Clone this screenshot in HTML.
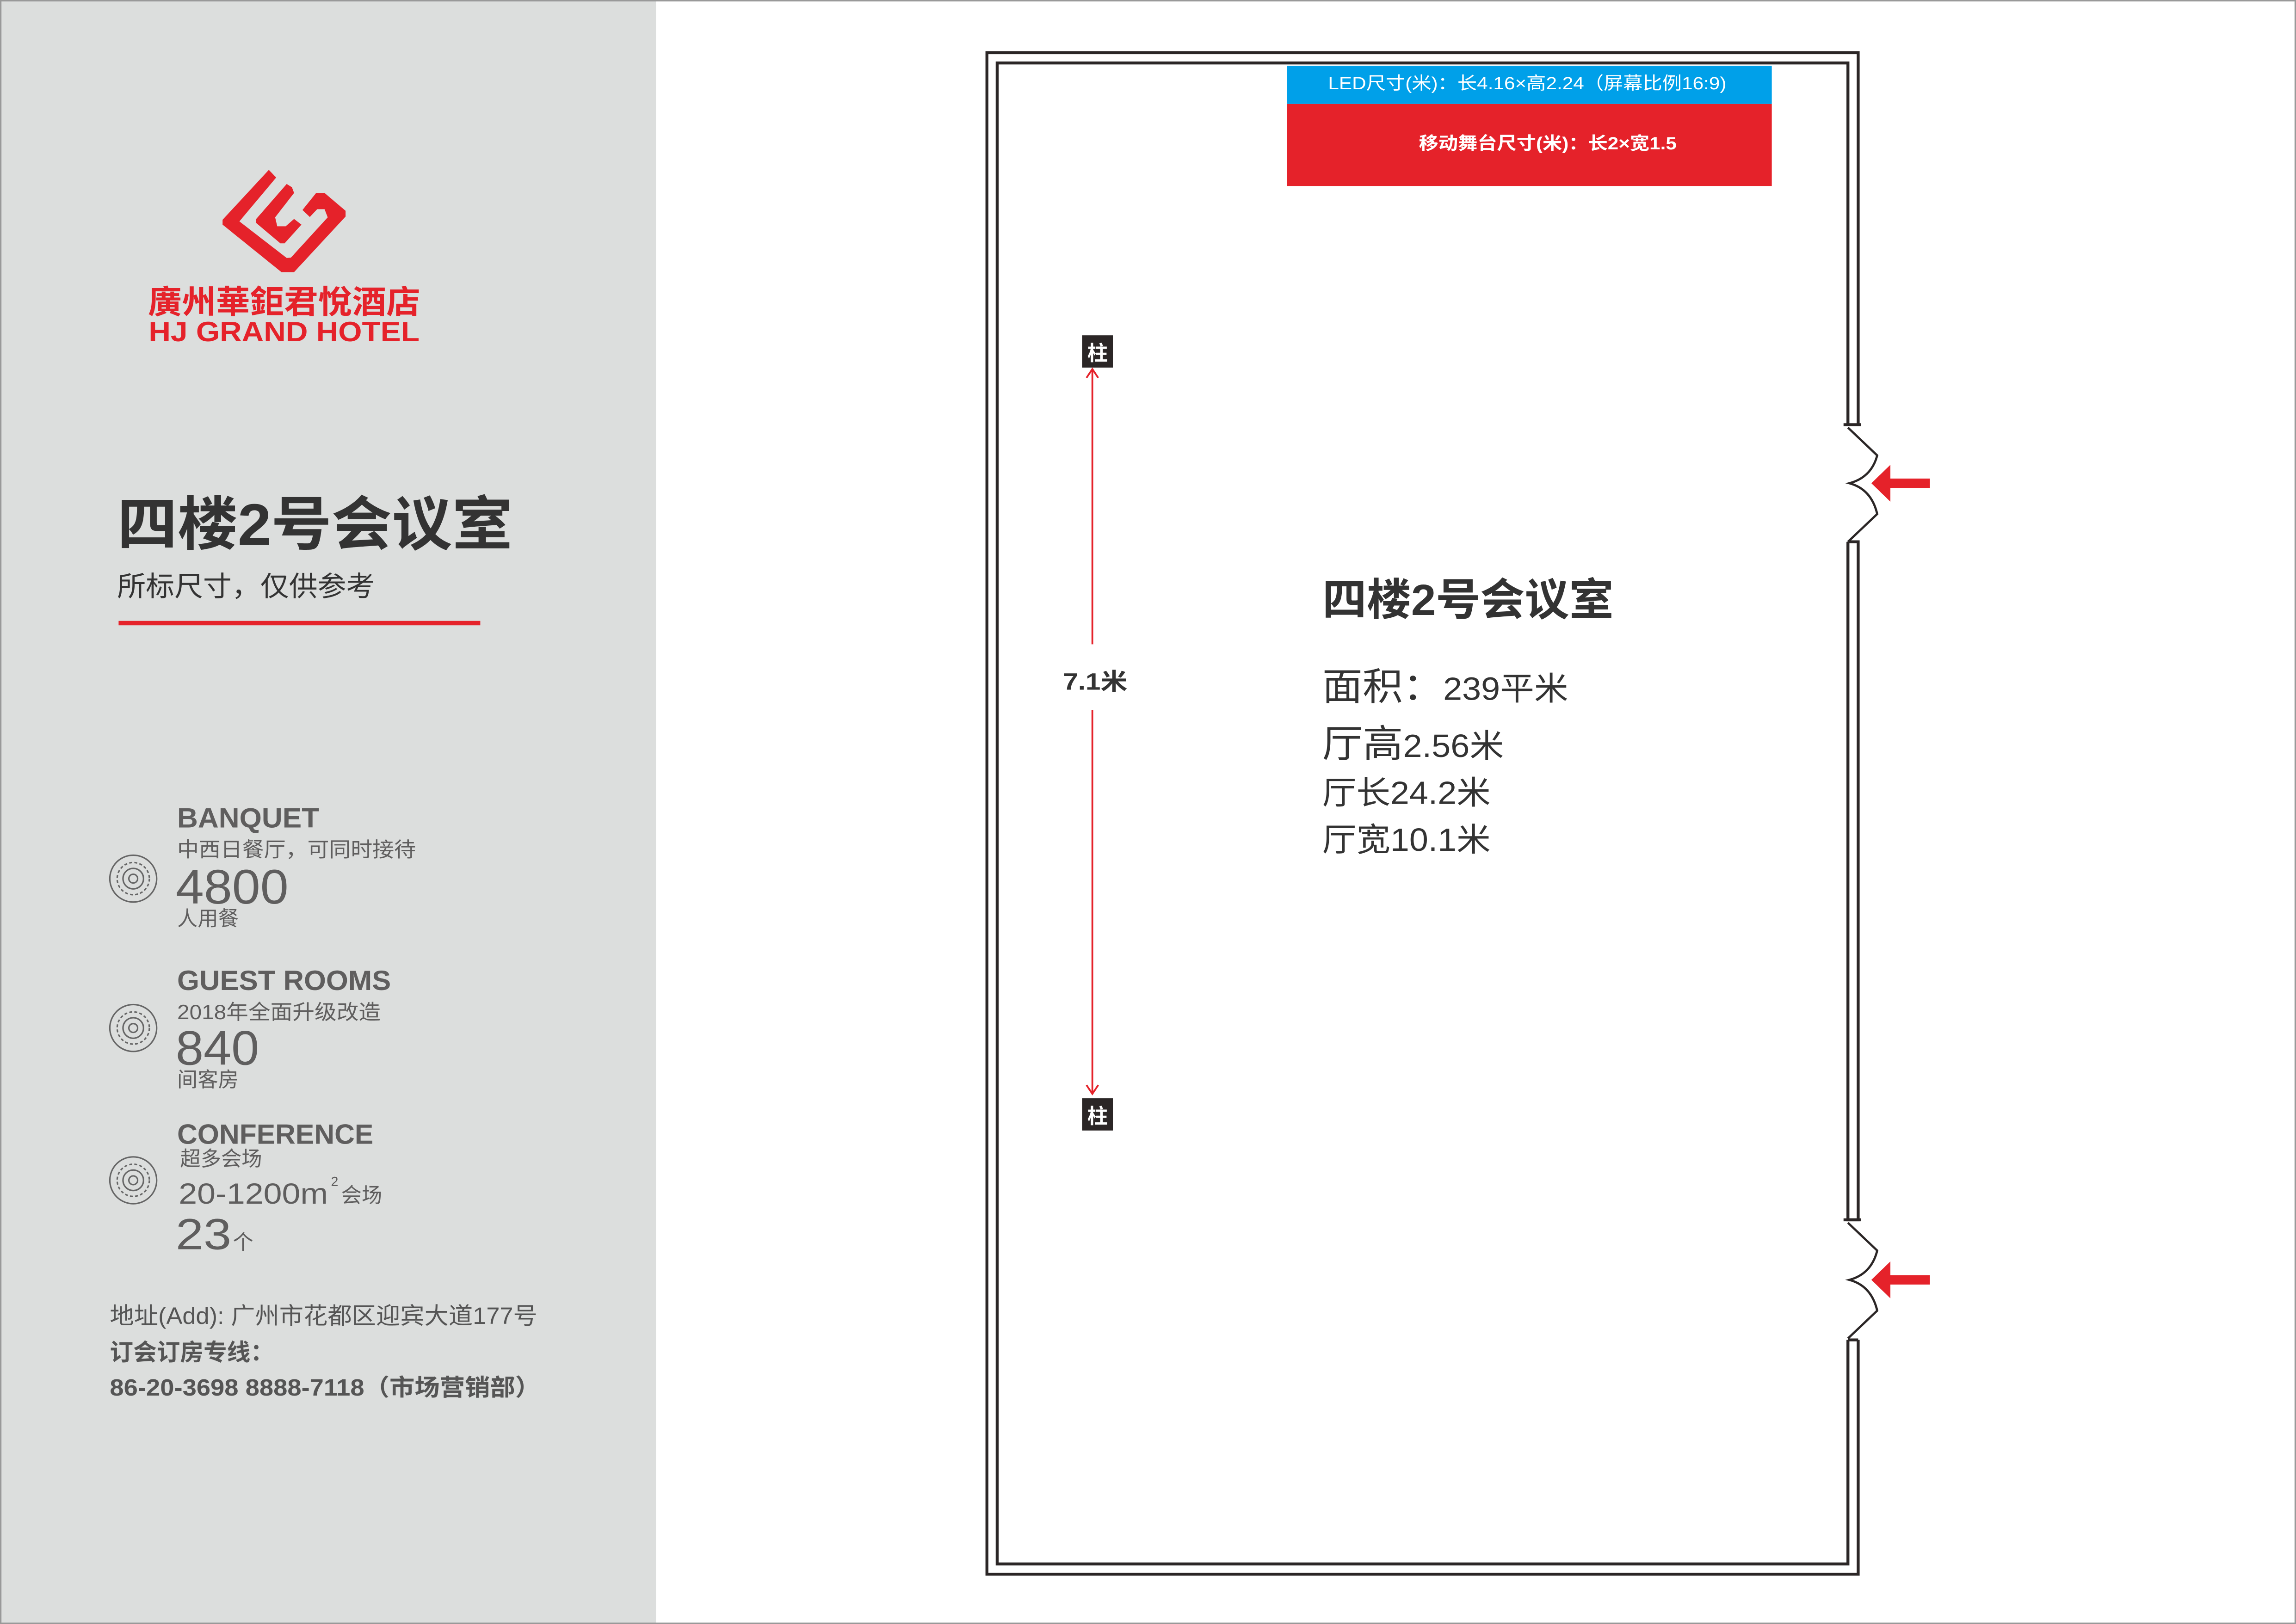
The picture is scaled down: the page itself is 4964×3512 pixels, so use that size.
<!DOCTYPE html>
<html><head><meta charset="utf-8"><style>
html,body{margin:0;padding:0;background:#fff}
svg{display:block}
text{font-family:"Liberation Sans","Noto Sans CJK SC",sans-serif}
</style></head><body>
<svg width="4964" height="3512" viewBox="0 0 1568 1109" preserveAspectRatio="none" xmlns="http://www.w3.org/2000/svg">
<rect x="0" y="0" width="1568" height="1109" fill="#fff"/>
<rect x="0" y="0" width="448" height="1109" fill="#dcdedd"/>
<rect x="0.5" y="0.5" width="1567" height="1108" fill="none" stroke="#999" stroke-width="1"/>
<!-- logo -->
<g transform="translate(152,116) scale(0.1436,0.111) translate(-520,-128)" fill="#e5222a">
<polygon points="740,128 520,435 520,465 800,757 860,757 1105,415 1105,380 1005,270 965,270 900,375 935,418 970,370 1005,370 1020,420 845,668 825,670 600,445 775,175"/>
<polygon points="825,215 680,430 680,455 795,580 815,580 895,465 860,430 820,475 780,475 770,420 860,270 850,235"/>
</g>
<text x="194" y="214" font-size="22" font-weight="bold" fill="#e5222a" text-anchor="middle" textLength="186" lengthAdjust="spacingAndGlyphs">廣州華鉅君悅酒店</text>
<text x="194" y="233" font-size="19" font-weight="bold" fill="#e5222a" text-anchor="middle" textLength="185" lengthAdjust="spacingAndGlyphs">HJ GRAND HOTEL</text>
<text x="80" y="372" font-size="40" font-weight="bold" fill="#333" textLength="270" lengthAdjust="spacingAndGlyphs">四楼2号会议室</text>
<text x="80" y="407" font-size="19" fill="#333" textLength="176" lengthAdjust="spacingAndGlyphs">所标尺寸，仅供参考</text>
<rect x="81" y="424" width="247" height="3" fill="#e5222a"/>
<!-- stats -->
<g fill="#5f5e5e">
<text x="121" y="565" font-size="19" font-weight="bold" textLength="97" lengthAdjust="spacingAndGlyphs">BANQUET</text>
<text x="121" y="585" font-size="14" textLength="163" lengthAdjust="spacingAndGlyphs">中西日餐厅，可同时接待</text>
<text x="120" y="617" font-size="33" textLength="77" lengthAdjust="spacingAndGlyphs">4800</text>
<text x="121" y="632" font-size="14">人用餐</text>
<text x="121" y="676" font-size="19" font-weight="bold" textLength="146" lengthAdjust="spacingAndGlyphs">GUEST ROOMS</text>
<text x="121" y="696" font-size="14" textLength="139" lengthAdjust="spacingAndGlyphs">2018年全面升级改造</text>
<text x="120" y="727" font-size="33" textLength="57" lengthAdjust="spacingAndGlyphs">840</text>
<text x="121" y="742" font-size="14">间客房</text>
<text x="121" y="781" font-size="19" font-weight="bold" textLength="134" lengthAdjust="spacingAndGlyphs">CONFERENCE</text>
<text x="123" y="796" font-size="14">超多会场</text>
<text x="122" y="822" font-size="20" textLength="102" lengthAdjust="spacingAndGlyphs">20-1200m</text>
<text x="226" y="810" font-size="9">2</text>
<text x="233" y="821" font-size="14">会场</text>
<text x="120" y="853" font-size="30" textLength="38" lengthAdjust="spacingAndGlyphs">23</text>
<text x="159" y="853" font-size="14">个</text>
</g>
<g fill="none" stroke="#666" stroke-width="1">
<circle cx="91" cy="600" r="16"/><circle cx="91" cy="600" r="11" stroke-dasharray="2,1.5"/><circle cx="91" cy="600" r="7"/><circle cx="91" cy="600" r="3"/>
<circle cx="91" cy="702" r="16"/><circle cx="91" cy="702" r="11" stroke-dasharray="2,1.5"/><circle cx="91" cy="702" r="7"/><circle cx="91" cy="702" r="3"/>
<circle cx="91" cy="806" r="16"/><circle cx="91" cy="806" r="11" stroke-dasharray="2,1.5"/><circle cx="91" cy="806" r="7"/><circle cx="91" cy="806" r="3"/>
</g>
<text x="75" y="904" font-size="16" fill="#555" textLength="292" lengthAdjust="spacingAndGlyphs">地址(Add): 广州市花都区迎宾大道177号</text>
<text x="75" y="929" font-size="16" font-weight="bold" fill="#555">订会订房专线：</text>
<text x="75" y="953" font-size="16" font-weight="bold" fill="#555" textLength="294" lengthAdjust="spacingAndGlyphs">86-20-3698 8888-7118（市场营销部）</text>
<!-- room walls -->
<g fill="none" stroke="#2b2626" stroke-width="2">
<polyline points="1269,290 1269,36 674,36 674,1075 1269,1075 1269,915"/>
<polyline points="1262,290 1262,43 681,43 681,1068 1262,1068 1262,915"/>
<polyline points="1262,370 1262,833 1269,833 1269,370 1262,370"/>
<line x1="1259" y1="290" x2="1271" y2="290"/>
<line x1="1259" y1="833" x2="1271" y2="833"/>
<line x1="1262" y1="915" x2="1269" y2="915"/>
<path d="M1262,292 L1282,311 Q1278,326 1263,330 Q1278,334 1282,351 L1262,370" stroke-width="1.5"/>
<path d="M1262,835 L1282,854 Q1278,870 1263,874 Q1278,878 1282,895 L1262,914" stroke-width="1.5"/>
</g>
<g fill="#e5222a">
<polygon points="1278,330 1291,317.4 1291,326.8 1318,326.8 1318,333.2 1291,333.2 1291,342.6"/>
<polygon points="1278,874 1291,861.4 1291,870.8 1318,870.8 1318,877.2 1291,877.2 1291,886.6"/>
</g>
<!-- LED/stage -->
<rect x="879" y="45" width="331" height="26" fill="#00a0e9"/>
<rect x="879" y="71" width="331" height="56" fill="#e5222a"/>
<text x="1043" y="61" font-size="12" fill="#fff" text-anchor="middle" textLength="272" lengthAdjust="spacingAndGlyphs">LED尺寸(米)：长4.16×高2.24（屏幕比例16:9)</text>
<text x="1057" y="102" font-size="12" font-weight="bold" fill="#fff" text-anchor="middle" textLength="176" lengthAdjust="spacingAndGlyphs">移动舞台尺寸(米)：长2×宽1.5</text>
<!-- pillars -->
<rect x="739" y="229" width="21" height="22" fill="#2b2626"/>
<text x="749.5" y="246" font-size="14" font-weight="bold" fill="#fff" text-anchor="middle">柱</text>
<rect x="739" y="750" width="21" height="22" fill="#2b2626"/>
<text x="749.5" y="767" font-size="14" font-weight="bold" fill="#fff" text-anchor="middle">柱</text>
<g stroke="#e5222a" stroke-width="1.2" fill="none">
<line x1="746" y1="252" x2="746" y2="440"/>
<line x1="746" y1="485" x2="746" y2="747"/>
<polyline points="742,258 746,252 750,258"/>
<polyline points="742,741 746,747 750,741"/>
</g>
<text x="748" y="471" font-size="16" font-weight="bold" fill="#333" text-anchor="middle" textLength="44" lengthAdjust="spacingAndGlyphs">7.1米</text>
<!-- room info -->
<text x="903" y="420" font-size="30" font-weight="bold" fill="#333" textLength="199" lengthAdjust="spacingAndGlyphs">四楼2号会议室</text>
<text x="903" y="478" font-size="26" fill="#333" textLength="168" lengthAdjust="spacingAndGlyphs">面积：<tspan font-size="22">239平米</tspan></text>
<text x="903" y="517" font-size="26" fill="#333" textLength="124" lengthAdjust="spacingAndGlyphs">厅高<tspan font-size="22">2.56米</tspan></text>
<text x="903" y="549" font-size="22" fill="#333" textLength="115" lengthAdjust="spacingAndGlyphs">厅长24.2米</text>
<text x="903" y="581" font-size="22" fill="#333" textLength="115" lengthAdjust="spacingAndGlyphs">厅宽10.1米</text>
</svg>
</body></html>
